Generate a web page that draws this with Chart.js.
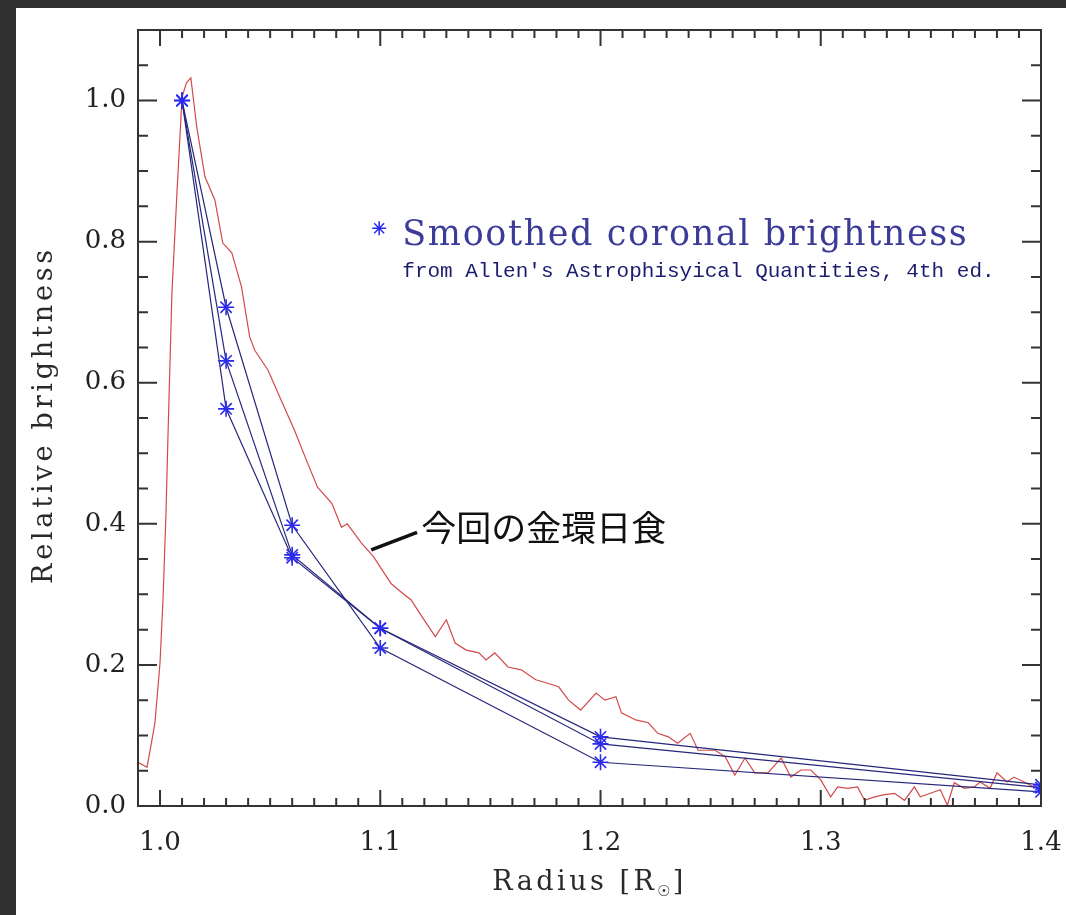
<!DOCTYPE html>
<html>
<head>
<meta charset="utf-8">
<script src="https://cdn.jsdelivr.net/npm/chart.js@4/dist/chart.umd.min.js"></script>
<style>
  html, body { margin: 0; background: #313131; }
  #chart { position: absolute; left: 16px; top: 8px; background: #fff; }
</style>
</head>
<body>
<canvas id="chart" width="1050" height="907"></canvas>
<script>
// observed annular eclipse profile (red)
const eclipseRadius = [
  0.990, 0.9941, 0.9955, 0.9977, 1.0000, 1.0014, 1.0027, 1.0036, 1.0054, 1.0077,
  1.0100, 1.0120, 1.0140, 1.0167, 1.0204, 1.0249, 1.0285, 1.0326, 1.0370, 1.0407,
  1.0430, 1.0490, 1.0550, 1.0610, 1.0670, 1.0715, 1.0780, 1.0824, 1.0850, 1.0914,
  1.0970, 1.1018, 1.1050, 1.1100, 1.1140, 1.1190, 1.1250, 1.1300, 1.1340, 1.1390,
  1.1448, 1.1480, 1.1520, 1.1580, 1.1640, 1.1706, 1.1760, 1.1810, 1.1855, 1.1910,
  1.1980, 1.2020, 1.2070, 1.2095, 1.2160, 1.2217, 1.2260, 1.2308, 1.2350, 1.2407,
  1.2443, 1.2520, 1.2566, 1.2610, 1.2656, 1.2700, 1.2760, 1.2820, 1.2864, 1.2910,
  1.2955, 1.3000, 1.3045, 1.3077, 1.3122, 1.3167, 1.3199, 1.3244, 1.3290, 1.3335,
  1.3380, 1.3425, 1.3452, 1.3498, 1.3543, 1.3575, 1.3606, 1.3652, 1.3697, 1.3724,
  1.3769, 1.3800, 1.3846, 1.3877, 1.3923, 1.3968, 1.4000
];
const eclipseBrightness = [
  0.062, 0.055, 0.079, 0.118, 0.203, 0.296, 0.415, 0.523, 0.727, 0.870,
  1.005, 1.025, 1.032, 0.962, 0.892, 0.859, 0.798, 0.784, 0.736, 0.665,
  0.646, 0.618, 0.575, 0.533, 0.486, 0.452, 0.429, 0.395, 0.400, 0.373,
  0.353, 0.330, 0.315, 0.302, 0.292, 0.268, 0.240, 0.264, 0.231, 0.221,
  0.217, 0.207, 0.217, 0.197, 0.193, 0.179, 0.174, 0.169, 0.150, 0.136,
  0.160, 0.150, 0.155, 0.132, 0.122, 0.118, 0.103, 0.098, 0.089, 0.103,
  0.079, 0.079, 0.070, 0.044, 0.068, 0.047, 0.047, 0.068, 0.041, 0.051,
  0.051, 0.037, 0.013, 0.027, 0.025, 0.027, 0.008, 0.013, 0.016, 0.018,
  0.008, 0.027, 0.013, 0.018, 0.023, 0.001, 0.033, 0.025, 0.027, 0.034,
  0.025, 0.047, 0.034, 0.041, 0.034, 0.027, 0.025
];

// Allen's smoothed coronal brightness (blue)
const allenRadius = [1.01, 1.03, 1.06, 1.1, 1.2, 1.4];
const allenA = [1.0, 0.707, 0.398, 0.224, 0.062, 0.020];
const allenB = [1.0, 0.631, 0.356, 0.252, 0.098, 0.030];
const allenC = [1.0, 0.563, 0.352, 0.252, 0.088, 0.026];

const xTicks = [1.0, 1.1, 1.2, 1.3, 1.4];
const yTicks = [0.0, 0.2, 0.4, 0.6, 0.8, 1.0];

const toPoints = (xs, ys) => xs.map((x, i) => ({ x, y: ys[i] }));

const allenStyle = {
  showLine: true,
  borderColor: '#27277c',
  borderWidth: 1.2,
  pointStyle: 'star',
  pointRadius: 8,
  pointBorderColor: '#2b2bee',
  pointBackgroundColor: '#2b2bee',
  pointBorderWidth: 1.6,
  tension: 0,
};

const tickFont = { family: 'DejaVu Serif', size: 26 };

// text placed in data units
const notes = {
  leader: [[1.0959, 0.363], [1.1167, 0.388]],
  eclipse: { x: 1.1186, y: 0.394, text: '今回の金環日食' },
  legendStar: { x: 1.0995, y: 0.819 },
  legend1: { x: 1.110, y: 0.795, text: 'Smoothed coronal brightness' },
  legend2: { x: 1.110, y: 0.750, text: "from Allen's Astrophisyical Quantities, 4th ed." },
};

function star(ctx, cx, cy, r) {
  ctx.beginPath();
  for (let k = 0; k < 4; k++) {
    const t = k * Math.PI / 4;
    ctx.moveTo(cx - r * Math.cos(t), cy - r * Math.sin(t));
    ctx.lineTo(cx + r * Math.cos(t), cy + r * Math.sin(t));
  }
  ctx.stroke();
}

const idlAxes = {
  id: 'idlAxes',
  afterDatasetsDraw(chart) {
    const { ctx, chartArea: a, scales: { x, y } } = chart;
    ctx.save();
    ctx.strokeStyle = '#333';
    ctx.lineWidth = 2;
    ctx.beginPath();
    for (let k = 99; k <= 140; k++) {
      const px = x.getPixelForValue(k / 100);
      const len = k % 10 === 0 ? 16 : 8;
      ctx.moveTo(px, a.bottom); ctx.lineTo(px, a.bottom - len);
      ctx.moveTo(px, a.top); ctx.lineTo(px, a.top + len);
    }
    for (let k = 0; k <= 22; k++) {
      const py = y.getPixelForValue(k * 0.05);
      const len = k % 4 === 0 ? 19 : 10;
      ctx.moveTo(a.left, py); ctx.lineTo(a.left + len, py);
      ctx.moveTo(a.right, py); ctx.lineTo(a.right - len, py);
    }
    ctx.stroke();
    ctx.strokeRect(a.left, a.top, a.right - a.left, a.bottom - a.top);
    ctx.restore();
  },
  afterDraw(chart) {
    const { ctx, chartArea: a, scales: { x, y } } = chart;
    ctx.save();

    // y title
    ctx.fillStyle = '#2a2a2a';
    ctx.font = '27px "DejaVu Serif"';
    ctx.letterSpacing = '3.8px';
    ctx.textAlign = 'center';
    ctx.textBaseline = 'middle';
    ctx.translate(29, (a.top + a.bottom) / 2 - 3);
    ctx.rotate(-Math.PI / 2);
    ctx.fillText('Relative brightness', 0, 0);
    ctx.setTransform(1, 0, 0, 1, 0, 0);

    // x title with subscript sun symbol
    ctx.textAlign = 'left';
    ctx.textBaseline = 'alphabetic';
    const main = 'Radius [R', sub = '☉', close = ']';
    ctx.font = '27px "DejaVu Serif"';
    ctx.letterSpacing = '3.5px';
    const w1 = ctx.measureText(main).width;
    const w3 = ctx.measureText(close).width;
    ctx.font = '15px "DejaVu Sans"';
    ctx.letterSpacing = '2px';
    const w2 = ctx.measureText(sub).width;
    let tx = (a.left + a.right) / 2 - (w1 + w2 + w3) / 2;
    const base = 882;
    ctx.font = '27px "DejaVu Serif"';
    ctx.letterSpacing = '3.5px';
    ctx.fillText(main, tx, base);
    ctx.font = '15px "DejaVu Sans"';
    ctx.letterSpacing = '2px';
    ctx.fillText(sub, tx + w1, base + 6);
    ctx.font = '27px "DejaVu Serif"';
    ctx.letterSpacing = '3.5px';
    ctx.fillText(close, tx + w1 + w2, base);

    // leader line and eclipse label
    const [p0, p1] = notes.leader;
    ctx.strokeStyle = '#111';
    ctx.lineWidth = 3.5;
    ctx.beginPath();
    ctx.moveTo(x.getPixelForValue(p0[0]), y.getPixelForValue(p0[1]));
    ctx.lineTo(x.getPixelForValue(p1[0]), y.getPixelForValue(p1[1]));
    ctx.stroke();
    ctx.letterSpacing = '0px';
    ctx.fillStyle = '#111';
    ctx.font = '35px "Noto Sans CJK JP"';
    ctx.textBaseline = 'middle';
    ctx.fillText(notes.eclipse.text, x.getPixelForValue(notes.eclipse.x), y.getPixelForValue(notes.eclipse.y));

    // legend
    ctx.strokeStyle = '#2b2bee';
    ctx.lineWidth = 1.5;
    star(ctx, x.getPixelForValue(notes.legendStar.x), y.getPixelForValue(notes.legendStar.y), 7);
    ctx.textBaseline = 'alphabetic';
    ctx.fillStyle = '#3b3b98';
    ctx.font = '35px "DejaVu Serif"';
    ctx.letterSpacing = '1.6px';
    ctx.fillText(notes.legend1.text, x.getPixelForValue(notes.legend1.x), y.getPixelForValue(notes.legend1.y));
    ctx.fillStyle = '#1c1c6e';
    ctx.font = '21px "Liberation Mono"';
    ctx.letterSpacing = '0px';
    ctx.fillText(notes.legend2.text, x.getPixelForValue(notes.legend2.x), y.getPixelForValue(notes.legend2.y));

    ctx.restore();
  },
};

new Chart(document.getElementById('chart'), {
  type: 'scatter',
  data: {
    datasets: [
      { label: 'Allen A', data: toPoints(allenRadius, allenA), ...allenStyle },
      { label: 'Allen B', data: toPoints(allenRadius, allenB), ...allenStyle },
      { label: 'Allen C', data: toPoints(allenRadius, allenC), ...allenStyle },
      {
        label: '今回の金環日食',
        data: toPoints(eclipseRadius, eclipseBrightness),
        showLine: true,
        borderColor: '#d24a4a',
        borderWidth: 1.2,
        pointRadius: 0,
        tension: 0,
      },
    ],
  },
  options: {
    responsive: false,
    animation: false,
    layout: { padding: { top: 22, right: 25, left: 0, bottom: 0 } },
    plugins: {
      legend: { display: false },
      tooltip: { enabled: false },
    },
    scales: {
      x: {
        type: 'linear',
        min: 0.99,
        max: 1.4,
        afterBuildTicks: (scale) => { scale.ticks = xTicks.map((value) => ({ value })); },
        afterFit: (scale) => {
          scale.height = 109;
          scale.paddingLeft = 0;
          scale.paddingRight = 0;
        },
        grid: { display: false, drawTicks: false },
        border: { display: false },
        ticks: {
          callback: (v) => v.toFixed(1),
          font: tickFont,
          color: '#222',
          padding: 22,
          maxRotation: 0,
          autoSkip: false,
        },
      },
      y: {
        type: 'linear',
        min: 0,
        max: 1.1,
        afterBuildTicks: (scale) => { scale.ticks = yTicks.map((value) => ({ value })); },
        afterFit: (scale) => {
          scale.width = 122;
          scale.paddingTop = 0;
          scale.paddingBottom = 0;
        },
        grid: { display: false, drawTicks: false },
        border: { display: false },
        ticks: {
          callback: (v) => v.toFixed(1),
          font: tickFont,
          color: '#222',
          padding: 12,
          autoSkip: false,
        },
      },
    },
  },
  plugins: [idlAxes],
});
</script>
</body>
</html>
